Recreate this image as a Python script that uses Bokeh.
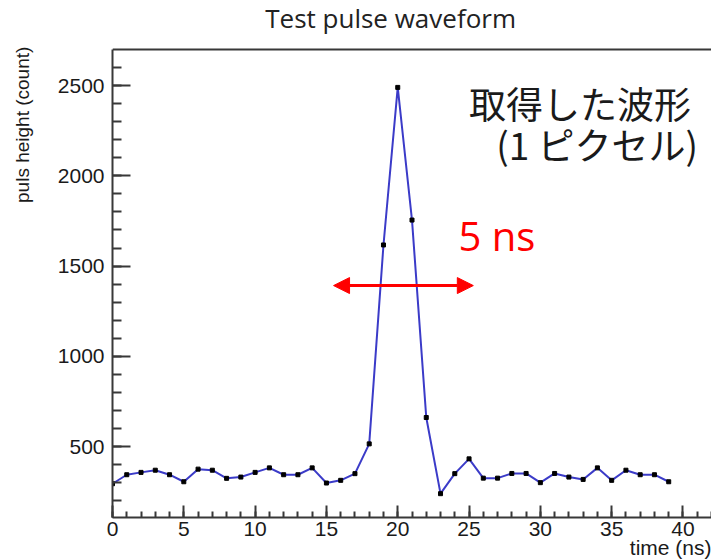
import numpy as np
from bokeh.plotting import figure
from bokeh.layouts import row
from bokeh.models import (ColumnDataSource, Range1d, FixedTicker, Label, Arrow,
                          NormalHead, Span, Title)
from bokeh.embed import file_html
from bokeh.resources import INLINE

# ---- data ----
time_ns = list(range(40))
pulse_height = [294, 344, 357, 369, 344, 305, 375, 369, 324, 331,
                357, 382, 344, 344, 382, 298, 313, 350, 515, 1617,
                2490, 1755, 661, 239, 350, 432, 325, 325, 351, 351,
                300, 351, 331, 318, 382, 313, 369, 344, 344, 305]
x_major_ticks = [0, 5, 10, 15, 20, 25, 30, 35, 40]
y_major_ticks = [500, 1000, 1500, 2000, 2500]
y_minor_ticks = list(range(200, 2601, 100))
x_minor_ticks = list(range(0, 43))

title_text = "Test pulse waveform"
xlabel_text = "time (ns)"
ylabel_text = "puls height (count)"
note_line1 = "取得した波形"
note_line2 = "(1 ピクセル)"
width_text = "5 ns"
arrow_start, arrow_end, arrow_level = 15.5, 25.3, 1392

Y_MIN, Y_TOP = 107, 2700          # visible frame of the chart
Y_CANVAS_TOP = 2971.5             # extended range so the title fits inside

# ---- narrow strip holding the vertical y-axis title ----
LEFT_W = 40
strip = figure(width=LEFT_W, height=560, output_backend="svg",
               toolbar_location=None, x_range=Range1d(0, LEFT_W),
               y_range=Range1d(0, 560), x_axis_location=None,
               y_axis_location=None, min_border=0)
strip.outline_line_color = None
strip.grid.visible = False
strip.border_fill_color = "white"
strip.background_fill_color = "white"
strip.add_layout(Label(x=22, y=510, text=ylabel_text, angle=np.pi / 2,
                       text_align="right", text_baseline="middle",
                       text_font="Liberation Sans", text_font_size="19px",
                       text_color="#1a1a1a"))

# ---- main chart ----
src = ColumnDataSource(dict(x=time_ns, y=pulse_height))

p = figure(width=711 - LEFT_W, height=560, output_backend="svg",
           toolbar_location=None,
           x_range=Range1d(0, 42), y_range=Range1d(Y_MIN, Y_CANVAS_TOP),
           min_border_left=112 - LEFT_W, min_border_right=0, min_border_top=0,
           min_border_bottom=43)
p.title.visible = False
p.outline_line_color = None
p.grid.visible = False
p.background_fill_color = "white"
p.border_fill_color = "white"

p.line("x", "y", source=src, line_color="#3b3bc8", line_width=2)
p.scatter("x", "y", source=src, marker="square", size=4, fill_color="black",
          line_color="black")

axis_col = "#383838"
tick_font = "Liberation Sans"
# x axis
xa = p.xaxis[0]
xa.ticker = FixedTicker(ticks=x_major_ticks, minor_ticks=x_minor_ticks)
xa.axis_line_color = axis_col
xa.axis_line_width = 2
xa.major_tick_line_color = axis_col
xa.major_tick_line_width = 2
xa.minor_tick_line_color = axis_col
xa.minor_tick_line_width = 2
xa.major_tick_in = 12
xa.major_tick_out = 0
xa.minor_tick_in = 6
xa.minor_tick_out = 0
xa.major_label_text_font = tick_font
xa.major_label_text_font_size = "21px"
xa.major_label_text_color = "#1a1a1a"
xa.major_label_standoff = 4
# y axis
ya = p.yaxis[0]
ya.ticker = FixedTicker(ticks=y_major_ticks, minor_ticks=y_minor_ticks)
ya.bounds = (Y_MIN, Y_TOP)
ya.axis_line_color = axis_col
ya.axis_line_width = 2
ya.major_tick_line_color = axis_col
ya.major_tick_line_width = 2
ya.minor_tick_line_color = axis_col
ya.minor_tick_line_width = 2
ya.major_tick_in = 18
ya.major_tick_out = 0
ya.minor_tick_in = 9
ya.minor_tick_out = 0
ya.major_label_text_font = tick_font
ya.major_label_text_font_size = "21px"
ya.major_label_text_color = "#1a1a1a"
ya.major_label_standoff = 8

# top frame line
p.add_layout(Span(location=Y_TOP, dimension="width", line_color=axis_col,
                  line_width=2))

# chart title (inside extended frame)
p.add_layout(Label(x=19.5, y=2872, text=title_text, text_align="center",
                   text_baseline="middle", text_font="Open Sans",
                   text_font_size="26px", text_color="#222222"))

# x axis title (right aligned)
p.add_layout(Title(text=xlabel_text, align="right", standoff=-10,
                   text_font=tick_font, text_font_style="normal",
                   text_font_size="21px", text_color="#1a1a1a"), "below")

# annotations inside
p.add_layout(Label(x=25.0, y=2406, text=note_line1, text_align="left",
                   text_baseline="middle", text_font="Noto Sans CJK JP",
                   text_font_size="37px", text_color="#1a1a1a"))
p.add_layout(Label(x=26.9, y=2179, text=note_line2, text_align="left",
                   text_baseline="middle", text_font="Noto Sans CJK JP",
                   text_font_size="37px", text_color="#1a1a1a"))
p.add_layout(Label(x=24.26, y=1669, text=width_text, text_align="left",
                   text_baseline="middle", text_font="Open Sans",
                   text_font_size="40px", text_color="#ff0000"))
p.add_layout(Arrow(start=NormalHead(size=16, fill_color="#ff0000", line_color="#ff0000"),
                   end=NormalHead(size=16, fill_color="#ff0000", line_color="#ff0000"),
                   x_start=arrow_start, x_end=arrow_end, y_start=arrow_level,
                   y_end=arrow_level, line_color="#ff0000", line_width=3))

layout = row(strip, p, spacing=0)
open("out.html", "w").write(file_html(layout, INLINE))
